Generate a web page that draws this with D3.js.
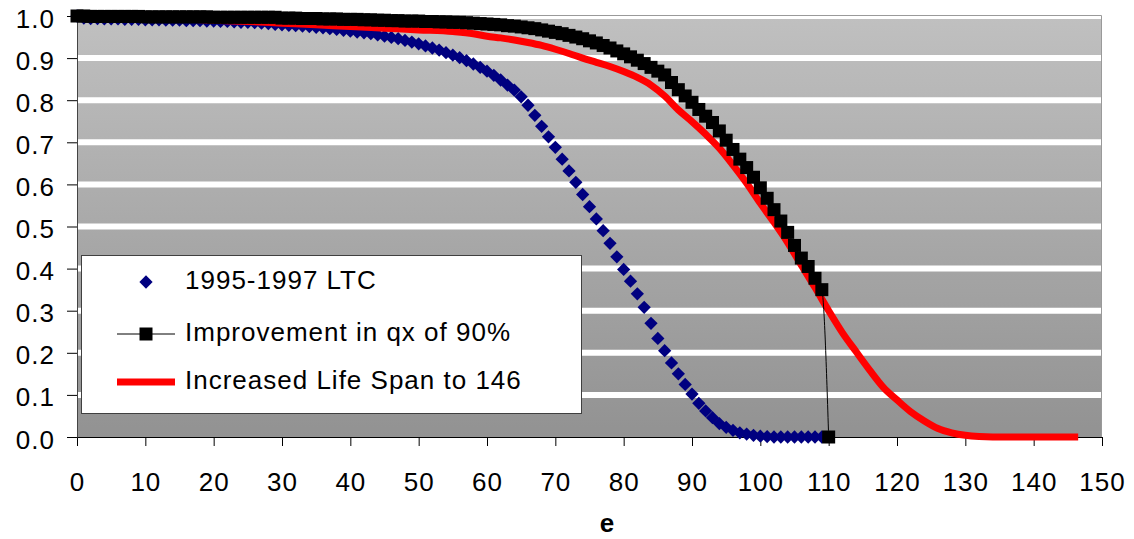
<!DOCTYPE html>
<html>
<head>
<meta charset="utf-8">
<script src="https://cdn.jsdelivr.net/npm/d3@7"></script>
<style>
  html, body { margin: 0; padding: 0; background: #fff; }
  svg { display: block; }
  text { font-family: "Liberation Sans", Arial, sans-serif; }
</style>
</head>
<body>
<svg id="chart" width="1134" height="539"></svg>
<script>
// ---- data ----
const xTicks = [0,10,20,30,40,50,60,70,80,90,100,110,120,130,140,150];
const yTicks = [0,0.1,0.2,0.3,0.4,0.5,0.6,0.7,0.8,0.9,1.0];
const seriesNames = ["1995-1997 LTC", "Improvement in qx of 90%", "Increased Life Span to 146"];

// 1995-1997 LTC, value at each age 0..109
const ltcValues = [
  1.000,
  0.995,0.994,0.994,0.993,0.993,
  0.993,0.992,0.992,0.992,0.991,
  0.991,0.991,0.990,0.990,0.990,
  0.989,0.989,0.989,0.988,0.988,
  0.987,0.987,0.986,0.985,0.985,
  0.984,0.983,0.982,0.980,0.979,
  0.978,0.977,0.976,0.975,0.973,
  0.972,0.970,0.968,0.966,0.964,
  0.962,0.960,0.958,0.955,0.952,
  0.949,0.946,0.942,0.938,0.934,
  0.929,0.924,0.919,0.913,0.907,
  0.901,0.894,0.886,0.878,0.869,
  0.859,0.848,0.836,0.824,0.808,
  0.788,0.764,0.738,0.713,0.688,
  0.660,0.632,0.605,0.576,0.547,
  0.518,0.490,0.460,0.428,0.398,
  0.370,0.340,0.308,0.270,0.234,
  0.205,0.176,0.150,0.125,0.102,
  0.080,0.062,0.046,0.032,0.023,
  0.016,0.010,0.007,0.004,0.002,
  0.001,0,0,0,0,
  0,0,0,0
];

// Improvement in qx of 90%, value at each age 0..110
const improvedValues = [
  1.000,1.000,0.999,0.999,0.999,0.999,0.999,0.999,0.999,0.999,
  0.998,0.998,0.998,0.998,0.998,0.998,0.998,0.998,0.998,0.998,
  0.997,0.997,0.997,0.997,0.997,0.997,0.997,0.997,0.997,0.997,
  0.995,0.995,0.995,0.994,0.994,0.994,0.993,0.993,0.993,0.992,
  0.992,0.992,0.991,0.991,0.990,0.990,0.989,0.989,0.988,0.988,
  0.988,0.987,0.987,0.986,0.986,0.985,0.985,0.984,0.983,0.982,
  0.981,0.980,0.979,0.977,0.976,0.974,0.972,0.970,0.967,0.964,
  0.961,0.958,0.954,0.950,0.946,0.941,0.936,0.930,0.924,0.917,
  0.910,0.903,0.895,0.887,0.878,0.869,0.860,0.842,0.825,0.810,
  0.795,0.778,0.762,0.747,0.727,0.705,0.683,0.660,0.640,0.617,
  0.592,0.567,0.540,0.513,0.486,0.455,0.425,0.405,0.377,0.350,
  0
];

// Increased Life Span to 146
const spanAges = [0,5,10,15,20,25,30,35,40,45,50,55,58,60,62,64,66,68,70,72,74,76,78,80,82,84,86,88,90,92,94,96,98,100,102,104,106,108,110,112,114,116,118,120,122,124,126,128,130,132,134,138,142,146];
const spanValues = [1.000,0.998,0.996,0.993,0.990,0.987,0.983,0.979,0.975,0.971,0.967,0.963,0.958,0.952,0.948,0.943,0.937,0.930,0.921,0.911,0.900,0.890,0.880,0.868,0.854,0.836,0.810,0.777,0.749,0.719,0.686,0.646,0.603,0.555,0.510,0.462,0.408,0.355,0.300,0.248,0.203,0.159,0.118,0.088,0.060,0.038,0.020,0.010,0.004,0.001,0,0,0,0];

(function () {
// ---- layout ----
const pLeft = 77, pRight = 1102, pTop = 16, pBottom = 437;
const svg = d3.select("#chart");
const x = d3.scaleLinear().domain([0,150]).range([pLeft,pRight]);
const y = d3.scaleLinear().domain([0,1]).range([pBottom,pTop]);

const defs = svg.append("defs");
const grad = defs.append("linearGradient").attr("id","bg").attr("x1",0).attr("y1",0).attr("x2",0).attr("y2",1);
grad.append("stop").attr("offset","0%").attr("stop-color","#c0c0c0");
grad.append("stop").attr("offset","100%").attr("stop-color","#929292");
defs.append("clipPath").attr("id","plotclip").append("rect")
  .attr("x",pLeft).attr("y",pTop).attr("width",pRight-pLeft).attr("height",pBottom-pTop);

// plot area
svg.append("rect").attr("x",pLeft).attr("y",pTop).attr("width",pRight-pLeft).attr("height",pBottom-pTop)
  .attr("fill","url(#bg)");

// gridlines
svg.append("g").attr("clip-path","url(#plotclip)")
  .selectAll("line").data(yTicks.filter(d => d > 0)).join("line")
  .attr("x1",pLeft).attr("x2",pRight)
  .attr("y1",d => y(d)).attr("y2",d => y(d))
  .attr("stroke","#ffffff").attr("stroke-width",6);

// border top/right
svg.append("path")
  .attr("d",`M${pLeft},${pTop-0.5}H${pRight-0.5}V${pBottom}`)
  .attr("fill","none").attr("stroke","#9a9a9a").attr("stroke-width",1);

// axes
const xAxis = d3.axisBottom(x).tickValues(xTicks).tickSize(9).tickSizeOuter(0).tickFormat(d3.format("d"));
const gx = svg.append("g").attr("transform",`translate(0,${pBottom})`).call(xAxis);
gx.select(".domain").attr("stroke","#000");
gx.selectAll(".tick line").attr("stroke","#000");
gx.selectAll(".tick text").attr("font-size",26).attr("fill","#000")
  .attr("letter-spacing","1px").attr("dy",null).attr("y",54)
  .attr("font-family","'Liberation Sans', Arial, sans-serif");

const yAxis = d3.axisLeft(y).tickValues(yTicks).tickSize(10).tickSizeOuter(0).tickFormat(d3.format(".1f"));
const gy = svg.append("g").attr("transform",`translate(${pLeft},0)`).call(yAxis);
gy.select(".domain").attr("stroke","#444");
gy.selectAll(".tick line").attr("stroke","#000");
gy.selectAll(".tick text").attr("font-size",26).attr("fill","#000")
  .attr("letter-spacing","1px").attr("dy",null).attr("y",11).attr("x",-22)
  .attr("font-family","'Liberation Sans', Arial, sans-serif");

// x axis title
svg.append("text").attr("x",607).attr("y",532).attr("text-anchor","middle")
  .attr("font-size",26).attr("font-weight","bold").text("e");

// ---- series ----
const ltcData = ltcValues.map((v,i) => [i,v]);
const impData = improvedValues.map((v,i) => [i,v]);
const spanData = spanAges.map((a,i) => [a, spanValues[i]]);

const diamond = d3.symbol().type(d3.symbolSquare).size(88);
const square = d3.symbol().type(d3.symbolSquare).size(169);

// blue diamonds
svg.append("g").selectAll("path").data(ltcData).join("path")
  .attr("d",diamond)
  .attr("transform",d => `translate(${x(d[0])},${y(d[1])}) rotate(45)`)
  .attr("fill","#000080");

// red thick line
svg.append("path").datum(spanData)
  .attr("d",d3.line().x(d => x(d[0])).y(d => y(d[1])).curve(d3.curveMonotoneX))
  .attr("fill","none").attr("stroke","#ff0000").attr("stroke-width",7)
  .attr("stroke-linejoin","round").attr("stroke-linecap","square");

// black line + squares
svg.append("path").datum(impData)
  .attr("d",d3.line().x(d => x(d[0])).y(d => y(d[1])).curve(d3.curveMonotoneX))
  .attr("fill","none").attr("stroke","#000").attr("stroke-width",1);
svg.append("g").selectAll("path").data(impData).join("path")
  .attr("d",square)
  .attr("transform",d => `translate(${x(d[0])},${y(d[1])})`)
  .attr("fill","#000");

// ---- legend ----
const lg = svg.append("g");
lg.append("rect").attr("x",81.5).attr("y",255.5).attr("width",500).attr("height",158)
  .attr("fill","#fff").attr("stroke","#404040").attr("stroke-width",1);
const rowY = [282, 334, 382];
const symX = 146;
lg.append("path").attr("d",diamond).attr("transform",`translate(${symX},${rowY[0]}) rotate(45)`).attr("fill","#000080");
lg.append("line").attr("x1",117).attr("x2",175).attr("y1",rowY[1]).attr("y2",rowY[1]).attr("stroke","#000").attr("stroke-width",1);
lg.append("path").attr("d",square).attr("transform",`translate(${symX},${rowY[1]})`).attr("fill","#000");
lg.append("line").attr("x1",117).attr("x2",175).attr("y1",rowY[2]).attr("y2",rowY[2]).attr("stroke","#ff0000").attr("stroke-width",7);
lg.selectAll("text.lt").data(seriesNames).join("text").attr("class","lt")
  .attr("x",185).attr("y",(d,i) => rowY[i] + 7)
  .attr("font-size",26).attr("letter-spacing","1px").attr("fill","#000")
  .text(d => d);
})();
</script>
</body>
</html>
